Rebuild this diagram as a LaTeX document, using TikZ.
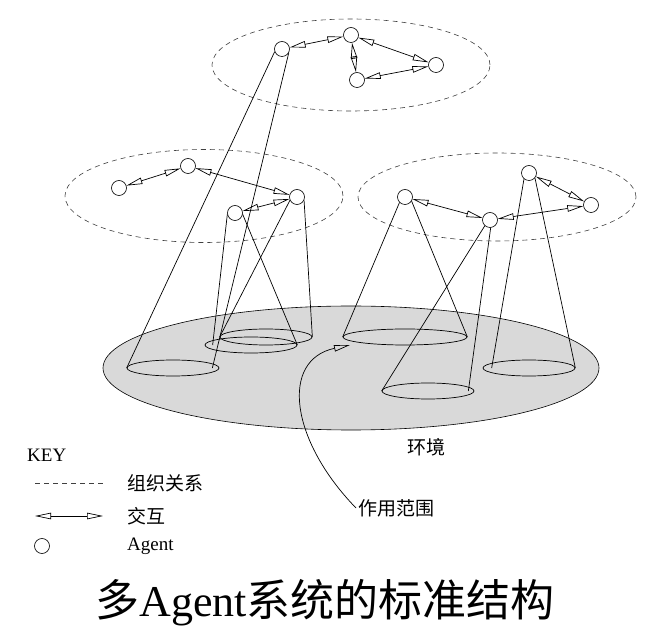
\documentclass[tikz,border=0pt]{standalone}
\usepackage{fontspec}
\setmainfont{Liberation Serif}
\newfontfamily\cjk{Noto Sans CJK SC}
\usetikzlibrary{shapes.geometric,arrows.meta}
\tikzset{
  agent/.style={circle, draw, fill=white, minimum size=15pt, inner sep=0pt, line width=0.6pt},
  basee/.style={ellipse, draw, inner sep=0pt, line width=0.7pt, minimum height=16pt},
  orgel/.style={ellipse, draw=black!75, inner sep=0pt, line width=0.6pt, dash pattern=on 5pt off 4pt},
  inter/.style={arrows={<->}, >={Triangle[open,length=16pt,width=6.5pt,line width=0.7pt]}, line width=0.7pt},
  onehead/.style={arrows={->}, >={Triangle[open,length=16pt,width=6.5pt,line width=0.7pt]}, line width=0.7pt},
  cone/.style={line width=0.7pt},
  lbl/.style={font=\cjk\fontsize{19}{22}\selectfont, inner sep=2pt},
  ltn/.style={font=\fontsize{19}{22}\selectfont, inner sep=0pt}
}
\begin{document}
\begin{tikzpicture}[x=1pt,y=-1pt]
\useasboundingbox (0,0) rectangle (665,636);
% environment
\node[ellipse, draw, fill=black!15, line width=0.6pt, inner sep=0pt, minimum width=496pt, minimum height=124pt] (env) at (351,368) {};
% cone bases
\node[basee, minimum width=92pt] (E1) at (173,368) {};
\node[basee, minimum width=92pt] (E2) at (251,345) {};
\node[basee, minimum width=92pt] (E3) at (266,337) {};
\node[basee, minimum width=124pt] (E4) at (405,337) {};
\node[basee, minimum width=92pt] (E5) at (428,391) {};
\node[basee, minimum width=92pt] (E6) at (529,368) {};
% organisation ellipses
\node[orgel, minimum width=278pt, minimum height=92pt] (G1) at (351,65) {};
\node[orgel, minimum width=278pt, minimum height=93pt] (G2) at (204,196) {};
\node[orgel, minimum width=278pt, minimum height=88pt] (G3) at (497,197) {};
% agents
\node[agent] (A1) at (282,49) {};
\node[agent] (A2) at (351,35) {};
\node[agent] (A3) at (357,80) {};
\node[agent] (A4) at (436,65) {};
\node[agent] (B1) at (119,188) {};
\node[agent] (B2) at (188,166) {};
\node[agent] (B3) at (235,213) {};
\node[agent] (B4) at (297,197) {};
\node[agent] (C1) at (405,197) {};
\node[agent] (C2) at (490,220) {};
\node[agent] (C3) at (529,173) {};
\node[agent] (C4) at (591,205) {};
% cones
\draw[cone] (A1.200) -- (E1.west);
\draw[cone] (A1.330) -- ([xshift=-7pt]E1.east);
\draw[cone] (B3.190) -- ([xshift=8pt]E2.west);
\draw[cone] (B3.350) -- (E2.east);
\draw[cone] (B4.205) -- (E3.west);
\draw[cone] (B4.335) -- (E3.east);
\draw[cone] (C1.225) -- (E4.west);
\draw[cone] (C1.328) -- (E4.east);
\draw[cone] (C2.228) -- (E5.west);
\draw[cone] (C2.275) -- ([xshift=-6pt]E5.east);
\draw[cone] (C3.230) -- ([xshift=9pt]E6.west);
\draw[cone] (C3.320) -- (E6.east);
% interactions
\draw[inter] (A1) -- (A2);
\draw[inter] (A2) -- (A4);
\draw[inter] (A2) -- (A3);
\draw[inter] (A3) -- (A4);
\draw[inter] (B1) -- (B2);
\draw[inter] (B2) -- (B4);
\draw[inter] (B3) -- (B4);
\draw[inter] (C1) -- (C2);
\draw[inter] (C2) -- (C4);
\draw[inter] (C3) -- (C4);
% labels
\node[lbl] (envlbl) at (426,447) {环境};
\node[lbl, anchor=west] (scope) at (356,508) {作用范围};
\coordinate (tip) at (350,345);
\draw[onehead] (scope.west) .. controls (290,440) and (280,360) .. (tip);
% key
\node[ltn, anchor=west] (key) at (27,455) {KEY};
\coordinate (k1a) at (35,483);
\coordinate (k1b) at (103,483);
\draw[black!75, line width=0.6pt, dash pattern=on 5pt off 4pt] (k1a) -- (k1b);
\node[lbl, anchor=west] (korg) at (125,483) {组织关系};
\coordinate (k2a) at (35,516);
\coordinate (k2b) at (103,516);
\draw[inter] (k2a) -- (k2b);
\node[lbl, anchor=west] (kint) at (125,516) {交互};
\node[agent] (kag) at (42,546) {};
\node[ltn, anchor=west] (kagl) at (127,546) {Agent};
% title
\node[font=\fontsize{44}{48}\selectfont, inner sep=0pt] (title) at (325,603) {{\cjk 多}Agent{\cjk 系统的标准结构}};
\end{tikzpicture}
\end{document}
